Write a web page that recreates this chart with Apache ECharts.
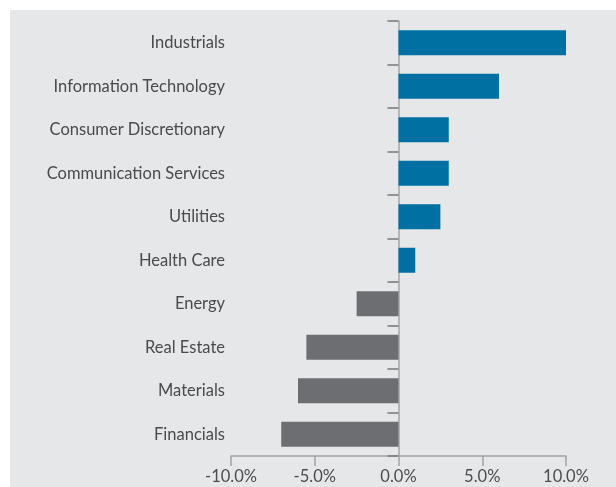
<!DOCTYPE html>
<html>
<head>
<meta charset="utf-8">
<script src="https://cdn.jsdelivr.net/npm/echarts@6/dist/echarts.min.js"></script>
<style>
  html, body { margin: 0; padding: 0; background: #ffffff; }
  #chart {
    position: absolute;
    left: 10px;
    top: 10px;
    width: 606px;
    height: 477px;
    background: #e6e7e9;
  }
</style>
</head>
<body>
<div id="chart"></div>
<script>
// sectors, top to bottom
var sectors = [
  'Industrials',
  'Information Technology',
  'Consumer Discretionary',
  'Communication Services',
  'Utilities',
  'Health Care',
  'Energy',
  'Real Estate',
  'Materials',
  'Financials'
]
// contribution, %
var values = [10.0, 6.0, 3.0, 3.0, 2.5, 1.0, -2.5, -5.5, -6.0, -7.0]
var xTicks = [-10, -5, 0, 5, 10]

var chart = echarts.init(document.getElementById('chart'))

chart.setOption({
  animation: false,
  textStyle: { fontFamily: 'Lato' },
  grid: { left: 221, right: 50, top: 11, bottom: 31, containLabel: false, outerBoundsMode: 'none' },
  xAxis: {
    type: 'value',
    min: xTicks[0],
    max: xTicks[xTicks.length - 1],
    interval: 5,
    axisLine: { show: true, onZero: false, lineStyle: { color: '#a3a4a6', width: 1.5 } },
    axisTick: { show: true, length: 10, lineStyle: { color: '#a3a4a6', width: 1.5 } },
    axisLabel: {
      color: '#4d4d4f',
      fontSize: 16.5,
      margin: 12,
      formatter: function(v) {
        return v.toFixed(1) + '%'
      }
    },
    splitLine: { show: false }
  },
  yAxis: {
    type: 'category',
    inverse: true,
    data: sectors,
    axisLine: { show: true, onZero: true, lineStyle: { color: '#a3a4a6', width: 1.5 } },
    axisTick: { show: true, length: 11, lineStyle: { color: '#77787b', width: 1.5 } },
    axisLabel: {
      color: '#4a4a4c',
      fontSize: 16.5,
      margin: 6,
      padding: [4, 0, 0, 0]
    }
  },
  series: [
    {
      type: 'bar',
      barWidth: 25,
      data: values.map(function(v) {
        return {
          value: v,
          itemStyle: { color: v >= 0 ? '#0070a3' : '#6d6e71' }
        }
      })
    }
  ]
})
</script>
</body>
</html>
